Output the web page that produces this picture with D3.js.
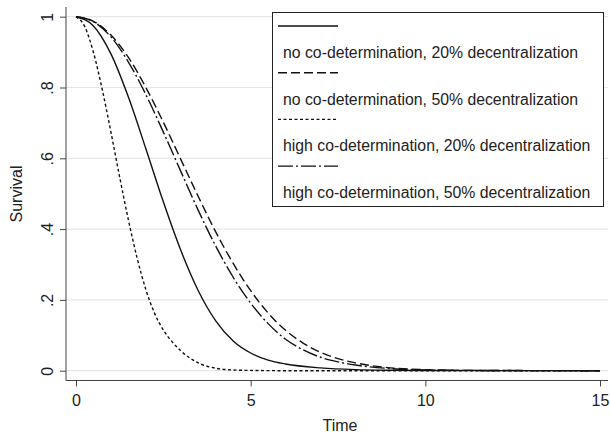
<!DOCTYPE html>
<html>
<head>
<meta charset="utf-8">
<script src="https://cdn.jsdelivr.net/npm/d3@7/dist/d3.min.js"></script>
<style>
  body { margin: 0; background: #fff; }
  text { font-family: "Liberation Sans", Arial, sans-serif; fill: #222; }
</style>
</head>
<body>
<div id="chart"></div>
<script>
// survival curves, [time, survival]
var noCo20 = [[0,1],[0.5,0.974],[1,0.895],[1.5,0.773],[2,0.627],[2.5,0.477],[3,0.34],[3.5,0.226],
  [4,0.141],[4.5,0.084],[5,0.05],[5.5,0.03],[6,0.019],[7,0.008],[8,0.003],[9,0.0012],[10,0.0005],[15,0]];
var noCo50 = [[0,1],[0.5,0.987],[1,0.948],[1.5,0.885],[2,0.8],[2.5,0.702],[3,0.597],[3.5,0.492],
  [4,0.392],[4.5,0.303],[5,0.226],[5.5,0.163],[6,0.114],[6.5,0.078],[7,0.052],[7.5,0.034],[8,0.022],
  [9,0.008],[10,0.003],[11,0.001],[15,0]];
var highCo20 = [[0,1],[0.25,0.972],[0.5,0.899],[0.75,0.795],[1,0.674],[1.25,0.547],[1.5,0.426],
  [1.75,0.318],[2,0.229],[2.25,0.162],[2.5,0.115],[2.75,0.082],[3,0.056],[3.5,0.022],[4,0.007],
  [4.5,0.002],[5,0.0008],[6,0],[15,0]];
var highCo50 = [[0,1],[0.5,0.986],[1,0.943],[1.5,0.872],[2,0.78],[2.5,0.674],[3,0.563],[3.5,0.453],
  [4,0.352],[4.5,0.264],[5,0.191],[5.5,0.133],[6,0.089],[6.5,0.059],[7,0.038],[7.5,0.025],[8,0.016],
  [9,0.006],[10,0.002],[11,0.001],[15,0]];

var seriesNames = ["no co-determination, 20% decentralization",
                   "no co-determination, 50% decentralization",
                   "high co-determination, 20% decentralization",
                   "high co-determination, 50% decentralization"];
var xTicks = [0, 5, 10, 15];
var yTicks = [0, 0.2, 0.4, 0.6, 0.8, 1];
var yTickLabels = ["0", ".2", ".4", ".6", ".8", "1"];

var width = 610, height = 438;
var dashes = [null, "9,4", "3,2.5", "15,3,2,3"];

var svg = d3.select("#chart")
  .append("svg")
  .attr("width", width)
  .attr("height", height);

var x = d3.scaleLinear().domain([0, 15]).range([76, 600]);
var y = d3.scaleLinear().domain([0, 1]).range([370.7, 16.7]);

var plotLeft = 66, plotRight = 608, plotTop = 7, plotBottom = 380.5;

// gridlines
svg.append("g")
  .selectAll("line")
  .data(yTicks)
  .enter()
  .append("line")
  .attr("x1", plotLeft)
  .attr("x2", plotRight)
  .attr("y1", function(d) { return y(d); })
  .attr("y2", function(d) { return y(d); })
  .style("stroke", "#e6e6e6")
  .style("stroke-width", 1.2);

// y axis
svg.append("g")
  .attr("transform", "translate(" + plotLeft + ",0)")
  .call(d3.axisLeft(y).tickValues(yTicks).tickSize(6).tickSizeOuter(0)
    .tickFormat(function(d, i) { return yTickLabels[i]; }))
  .call(function(g) {
    g.select(".domain").attr("d", "M0," + plotTop + "V" + plotBottom);
    g.selectAll("line, path").style("stroke", "#444");
    g.selectAll(".tick text")
      .attr("x", 0).attr("y", 0).attr("dy", "0.35em")
      .attr("transform", "translate(-19,0)rotate(-90)")
      .style("text-anchor", "middle")
      .style("font-size", "16px")
      .style("font-family", "'Liberation Sans', Arial, sans-serif")
      .style("fill", "#222");
  });

// x axis
svg.append("g")
  .attr("transform", "translate(0," + plotBottom + ")")
  .call(d3.axisBottom(x).tickValues(xTicks).tickSize(6).tickSizeOuter(0).tickPadding(8))
  .call(function(g) {
    g.select(".domain").attr("d", "M" + plotLeft + ",0H" + plotRight);
    g.selectAll("line, path").style("stroke", "#444");
    g.selectAll("text")
      .style("font-size", "16px")
      .style("font-family", "'Liberation Sans', Arial, sans-serif")
      .style("fill", "#222");
  });

// axis titles
svg.append("text")
  .attr("x", 340)
  .attr("y", 431)
  .style("text-anchor", "middle")
  .style("font-size", "16px")
  .text("Time");

svg.append("text")
  .attr("transform", "translate(22,194)rotate(-90)")
  .style("text-anchor", "middle")
  .style("font-size", "16px")
  .text("Survival");

// curves
var line = d3.line()
  .x(function(d) { return x(d[0]); })
  .y(function(d) { return y(d[1]); })
  .curve(d3.curveMonotoneX);

var curves = [noCo20, noCo50, highCo20, highCo50];

curves.forEach(function(c, i) {
  svg.append("path")
    .datum(c)
    .attr("d", line)
    .style("fill", "none")
    .style("stroke", "#111")
    .style("stroke-width", 1.4)
    .style("stroke-dasharray", dashes[i]);
});

// legend
var legend = svg.append("g");
legend.append("rect")
  .attr("x", 272.5)
  .attr("y", 12.5)
  .attr("width", 331)
  .attr("height", 194)
  .style("fill", "#fff")
  .style("stroke", "#222")
  .style("stroke-width", 1);

seriesNames.forEach(function(name, i) {
  var ly = 26 + i * 46.7;
  legend.append("line")
    .attr("x1", 278)
    .attr("x2", 338)
    .attr("y1", ly)
    .attr("y2", ly)
    .style("stroke", "#111")
    .style("stroke-width", 1.4)
    .style("stroke-dasharray", dashes[i]);
  legend.append("text")
    .attr("x", 283)
    .attr("y", ly + 32)
    .style("font-size", "15.8px")
    .text(name);
});
</script>
</body>
</html>
